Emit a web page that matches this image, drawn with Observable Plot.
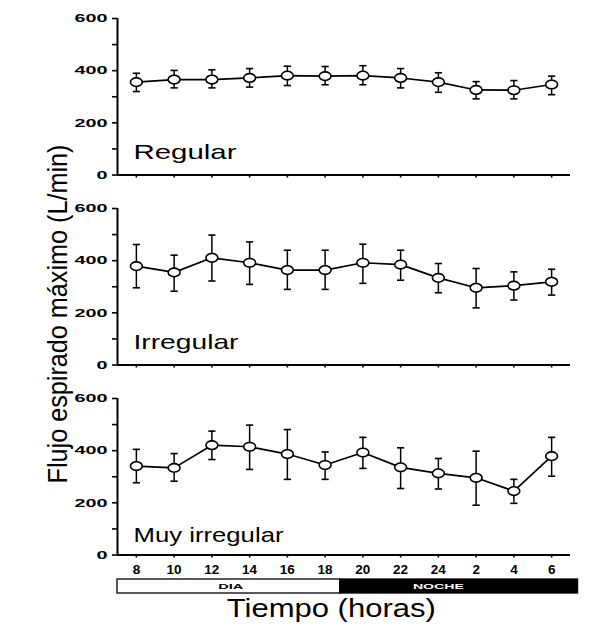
<!DOCTYPE html>
<html>
<head>
<meta charset="utf-8">
<script src="https://cdn.jsdelivr.net/npm/d3@7"></script>
<script src="https://cdn.jsdelivr.net/npm/@observablehq/plot@0.6"></script>
<style>
  body { margin: 0; background: #fff; }
  #chart { position: relative; width: 591px; height: 638px; overflow: hidden;
           font-family: "Liberation Sans", Arial, sans-serif; color: #000; }
  .panel { position: absolute; left: 0; }
  #ytitle { position: absolute; left: -142px; top: 300px; width: 400px; height: 28px;
            font-size: 28px; line-height: 28px; text-align: center; white-space: nowrap;
            transform: rotate(-90deg) scaleX(0.9); }
  #xtitle { position: absolute; left: 131px; top: 593px; width: 400px; text-align: center;
            font-size: 25px; line-height: 30px; white-space: nowrap; }
  #xtitle span { display: inline-block; transform: scaleX(1.24); }
</style>
</head>
<body>
<div id="chart">
  <div id="ytitle">Flujo espirado máximo (L/min)</div>
  <div id="xtitle"><span>Tiempo (horas)</span></div>
</div>
<script>
// ---- data ----
const clockHours = [8, 10, 12, 14, 16, 18, 20, 22, 24, 26, 28, 30];
const tickLabels = ["8", "10", "12", "14", "16", "18", "20", "22", "24", "2", "4", "6"];
const panelNames = ["Regular", "Irregular", "Muy irregular"];

const regularMean  = [356, 366, 366, 372, 381, 379, 381, 372, 356, 326, 325, 347];
const regularHigh  = [390, 401, 403, 408, 417, 416, 419, 408, 392, 358, 362, 379];
const regularLow   = [320, 334, 334, 337, 343, 346, 346, 334, 317, 292, 292, 308];

const irregularMean = [379, 355, 411, 392, 364, 364, 392, 385, 334, 296, 304, 319];
const irregularHigh = [462, 421, 498, 472, 440, 440, 463, 440, 389, 370, 357, 367];
const irregularLow  = [296, 283, 322, 309, 290, 290, 313, 325, 277, 219, 249, 268];

const muyMean = [341, 334, 421, 415, 387, 345, 393, 336, 313, 296, 245, 379];
const muyHigh = [405, 389, 475, 498, 481, 395, 451, 411, 370, 398, 290, 451];
const muyLow  = [277, 283, 366, 328, 290, 290, 332, 255, 253, 191, 198, 302];

const yMajorTicks = [0, 200, 400, 600];
const yMinorTicks = [100, 300, 500];

const periodLabels = ["DIA", "NOCHE"];
const periodStart  = [7, 18.8];
const periodEnd    = [18.8, 31.4];
const periodTextAt = [13, 24];

// ---- helpers ----
const font = "'Liberation Sans', Arial, sans-serif";
const fmtHour = d => tickLabels[clockHours.indexOf(d)];

const ellipse = {
  draw(ctx, size) {
    const r = Math.sqrt(size / Math.PI), rx = r * 1.38, ry = r, k = 0.5523;
    ctx.moveTo(rx, 0);
    ctx.bezierCurveTo(rx, ry * k, rx * k, ry, 0, ry);
    ctx.bezierCurveTo(-rx * k, ry, -rx, ry * k, -rx, 0);
    ctx.bezierCurveTo(-rx, -ry * k, -rx * k, -ry, 0, -ry);
    ctx.bezierCurveTo(rx * k, -ry, rx, -ry * k, rx, 0);
    ctx.closePath();
  }
};
const cap = {
  draw(ctx, size) {
    const r = Math.sqrt(size / Math.PI);
    ctx.moveTo(-r, 0);
    ctx.lineTo(r, 0);
  }
};

function stretchTexts(svg, selector, lengthOf) {
  svg.querySelectorAll(selector).forEach(t => {
    const L = lengthOf(t.textContent);
    if (L) {
      t.setAttribute("textLength", L);
      t.setAttribute("lengthAdjust", "spacingAndGlyphs");
    }
  });
}

const panels = [
  {name: panelNames[0], mean: regularMean, hi: regularHigh, lo: regularLow},
  {name: panelNames[1], mean: irregularMean, hi: irregularHigh, lo: irregularLow},
  {name: panelNames[2], mean: muyMean, hi: muyHigh, lo: muyLow}
];
const panelTops = [0, 190, 380];
const labelWidths = {"Regular": 103, "Irregular": 105, "Muy irregular": 150};

const chart = document.getElementById("chart");

panels.forEach((p, k) => {
  const last = k === panels.length - 1;
  const rows = clockHours.map((h, i) => ({h, mean: p.mean[i], hi: p.hi[i], lo: p.lo[i]}));
  const svg = Plot.plot({
    width: 591,
    height: last ? 200 : 181,
    marginLeft: 117,
    marginRight: 21,
    marginTop: 18,
    marginBottom: last ? 25.5 : 6.5,
    style: {fontFamily: font, background: "transparent", color: "#000"},
    x: {domain: [7, 31], axis: null},
    y: {domain: [0, 600], axis: null},
    marks: [
      Plot.axisY({ticks: yMajorTicks, tickSize: 5, tickPadding: 5, strokeWidth: 1.6,
                  fontSize: 11.5, fontWeight: "bold", label: null}),
      Plot.axisY({ticks: yMinorTicks, tickSize: 5, strokeWidth: 1.6, fill: "none", label: null}),
      last
        ? Plot.axisX({ticks: clockHours, tickFormat: fmtHour, tickSize: 3, tickPadding: 6,
                      strokeWidth: 1.6, fontSize: 13.5, fontWeight: "bold", label: null})
        : Plot.axisX({ticks: clockHours, tickSize: 3, strokeWidth: 1.6, fill: "none", label: null}),
      Plot.ruleX([7], {strokeWidth: 2}),
      Plot.ruleY([0], {strokeWidth: 2}),
      Plot.ruleX(rows, {x: "h", y1: "lo", y2: "hi", strokeWidth: 1.5, stroke: "#000"}),
      Plot.dot(rows, {x: "h", y: "hi", symbol: cap, r: 3.6, fill: "none", stroke: "#000", strokeWidth: 1.6}),
      Plot.dot(rows, {x: "h", y: "lo", symbol: cap, r: 3.6, fill: "none", stroke: "#000", strokeWidth: 1.6}),
      Plot.line(rows, {x: "h", y: "mean", stroke: "#000", strokeWidth: 1.7}),
      Plot.dot(rows, {x: "h", y: "mean", symbol: ellipse, r: 4.3, fill: "#fff", stroke: "#000", strokeWidth: 1.6}),
      Plot.text([p.name], {frameAnchor: "bottom-left", textAnchor: "start", lineAnchor: "bottom",
                           dx: 16, dy: k === 2 ? -13 : -16, fontSize: 21, fill: "#000"})
    ]
  });
  svg.classList.add("panel");
  svg.style.top = panelTops[k] + "px";
  stretchTexts(svg, 'g[aria-label="y-axis tick label"] text', s => 11 * s.length);
  stretchTexts(svg, 'g[aria-label="text"] text', s => labelWidths[s]);
  chart.appendChild(svg);
});

// Day / night bar
const periods = periodLabels.map((label, i) => ({label, start: periodStart[i], end: periodEnd[i], at: periodTextAt[i]}));
const bar = Plot.plot({
  width: 591,
  height: 20,
  marginLeft: 117,
  marginRight: 21,
  marginTop: 3,
  marginBottom: 3,
  style: {fontFamily: font, background: "transparent", color: "#000"},
  x: {domain: [7, 31], axis: null},
  y: {domain: [0, 1], axis: null},
  marks: [
    Plot.rect(periods, {x1: "start", x2: "end", y1: 0, y2: 1,
                        fill: (d, i) => i === 0 ? "#fff" : "#000", stroke: "#000", strokeWidth: 1.3}),
    Plot.text(periods, {x: "at", y: 0.5, text: "label", fontSize: 8, fontWeight: "bold",
                        fill: (d, i) => i === 0 ? "#000" : "#fff"})
  ],
  color: {type: "identity"}
});
bar.classList.add("panel");
bar.style.top = "576px";
stretchTexts(bar, 'g[aria-label="text"] text', s => ({DIA: 25, NOCHE: 51})[s]);
chart.appendChild(bar);
</script>
</body>
</html>
